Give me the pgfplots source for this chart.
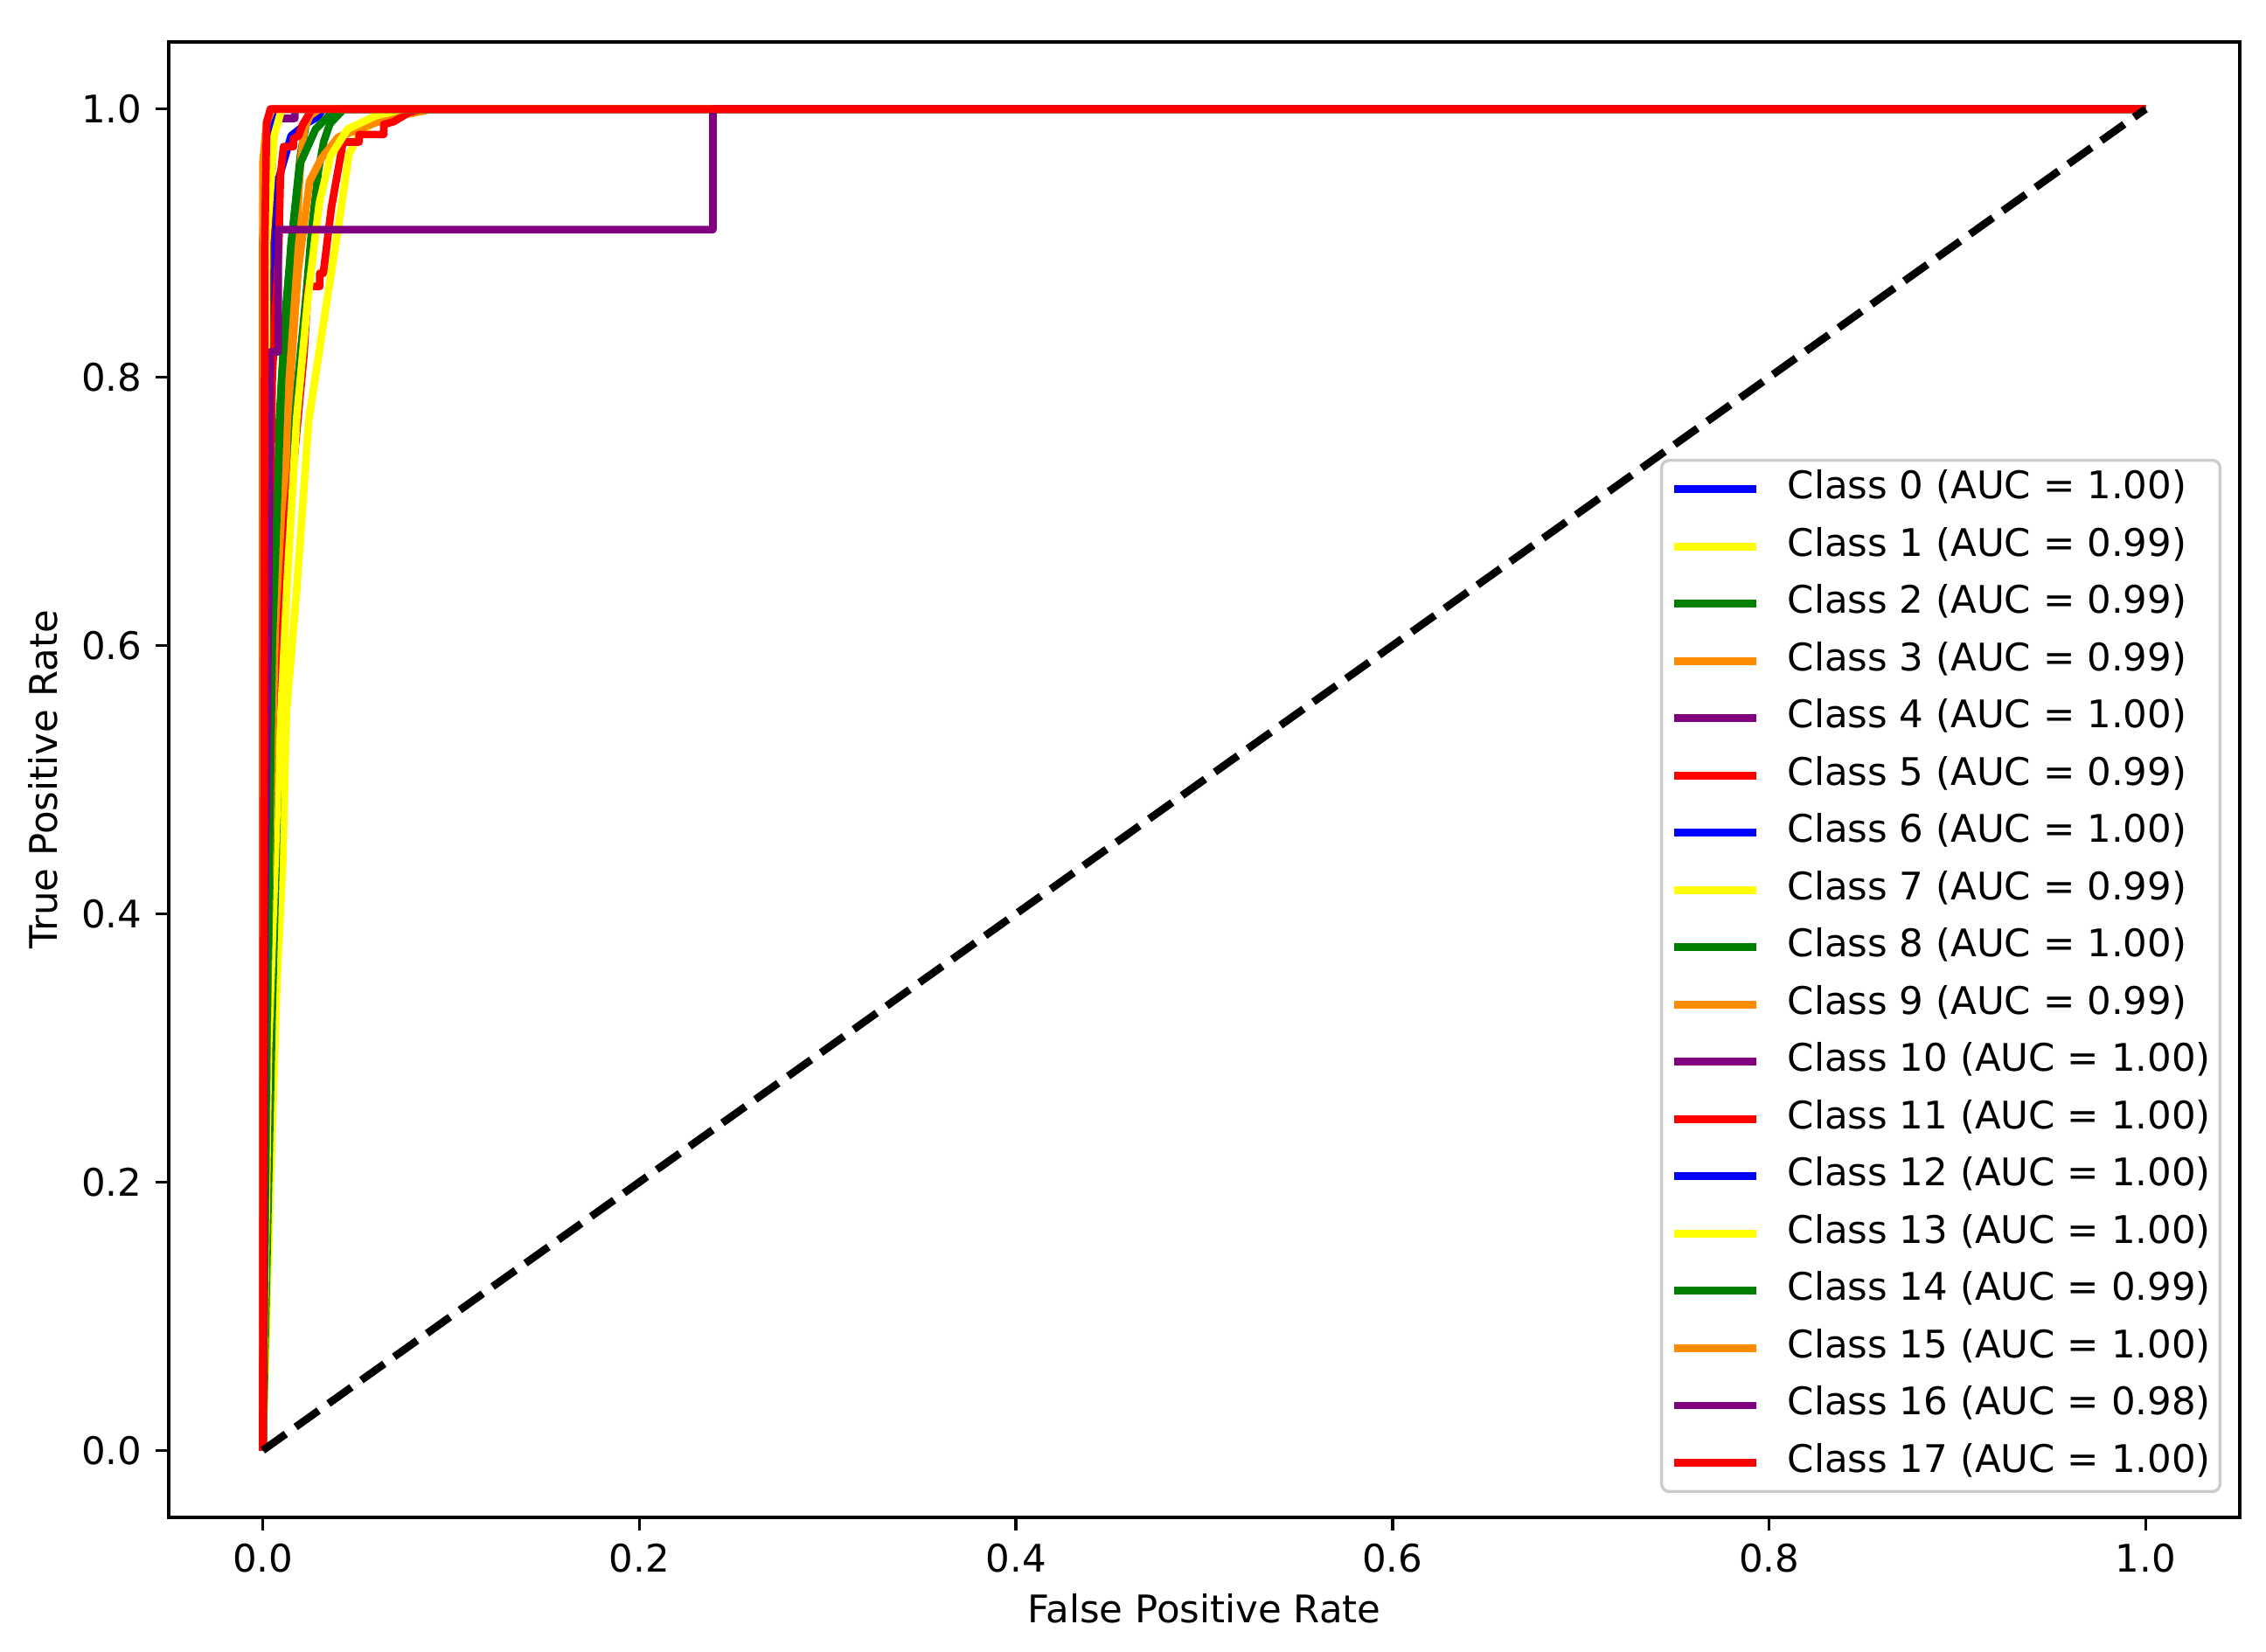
\documentclass[border=0pt]{standalone}
\usepackage{pgfplots}
\pgfplotsset{compat=1.18}
\usepackage{fontspec}
\setmainfont{DejaVu Sans}
\definecolor{cblue}{rgb}{0,0,1}
\definecolor{cyellow}{rgb}{1,1,0}
\definecolor{cgreen}{rgb}{0,0.502,0}
\definecolor{corange}{rgb}{1,0.549,0}
\definecolor{cpurple}{rgb}{0.502,0,0.502}
\definecolor{cred}{rgb}{1,0,0}
\newcommand{\legent}[1]{\addlegendentry{#1\hspace{2.2pt}}}
\begin{document}
\begin{tikzpicture}
\begin{axis}[
  at={(0,0)}, anchor=south west,
  scale only axis, width=544.6pt, height=388.05pt,
  xmin=-0.05, xmax=1.05, ymin=-0.05, ymax=1.05,
  xtick={0,0.2,0.4,0.6,0.8,1}, ytick={0,0.2,0.4,0.6,0.8,1},
  tick align=outside, major tick length=3.5pt,
  xtick pos=bottom, ytick pos=left,
  every tick/.style={black, line width=0.8pt},
  axis line style={line width=0.8pt},
  tick label style={font=\fontsize{10}{12}\selectfont},
  /pgf/number format/assume math mode=true,
  /pgf/number format/.cd, fixed, fixed zerofill, precision=1, /pgfplots/.cd,
  every axis x label/.style={at={(axis description cs:0.5,-0.0616)}, anchor=center, font=\fontsize{10}{12}\selectfont},
  every axis y label/.style={at={(axis description cs:-0.0606,0.5)}, anchor=center, rotate=90, font=\fontsize{10}{12}\selectfont},
  xlabel={False Positive Rate}, ylabel={True Positive Rate},
  no markers,
  every axis plot/.append style={line width=2pt, line join=round},
  legend cell align=left,
  legend image code/.code={\draw[#1] (0pt,0pt) -- (21.6pt,0pt);},
  legend style={at={(rel axis cs:1,0)}, anchor=south east, xshift=-4.8pt, yshift=6.4pt,
    draw=black!20, line width=0.8pt, rounded corners=2pt, fill=white, fill opacity=0.8, text opacity=1,
    font=\fontsize{10}{12}\selectfont, inner xsep=2.4pt, inner ysep=2.6pt,
    row sep=5.06pt, column sep=7.1pt,
    nodes={inner sep=0pt, text height=7.5pt, text depth=2.5pt}},
]
% Class 0
\addplot[cblue] coordinates {(0,0) (0.001,0.5) (0.003,0.8) (0.008,0.946) (0.015,0.98) (0.024,0.99) (0.029,0.994) (0.032,1) (1,1)};
\legent{Class 0 (AUC = 1.00)}
% Class 1
\addplot[cyellow] coordinates {(0,0) (0.004,0.2) (0.0075,0.35) (0.0106,0.44) (0.0125,0.55) (0.0177,0.637) (0.0244,0.768) (0.034,0.857) (0.040,0.911) (0.0457,0.966) (0.051,0.981) (0.060,0.992) (0.08,1) (1,1)};
\legent{Class 1 (AUC = 0.99)}
% Class 2
\addplot[cgreen] coordinates {(0,0) (0.003,0.2) (0.005,0.33) (0.007,0.44) (0.0086,0.55) (0.012,0.637) (0.0165,0.768) (0.0227,0.857) (0.026,0.911) (0.0296,0.955) (0.0324,0.976) (0.0356,0.989) (0.043,1) (1,1)};
\legent{Class 2 (AUC = 0.99)}
% Class 3
\addplot[corange] coordinates {(0,0) (0.002,0.3) (0.006,0.5) (0.010,0.637) (0.013,0.768) (0.0187,0.879) (0.0248,0.946) (0.031,0.963) (0.040,0.979) (0.0557,0.9875) (0.068,0.994) (0.08,0.997) (0.09,1) (1,1)};
\legent{Class 3 (AUC = 0.99)}
% Class 4
\addplot[cpurple] coordinates {(0,0) (0.001,0.6) (0.003,0.9) (0.0056,0.981) (0.0056,0.993) (0.017,0.993) (0.017,1) (1,1)};
\legent{Class 4 (AUC = 1.00)}
% Class 5
\addplot[cred] coordinates {(0,0) (0.003,0.3) (0.008,0.55) (0.014,0.7) (0.0218,0.8166) (0.0241,0.8677) (0.0302,0.8677) (0.0302,0.8775) (0.0321,0.8775) (0.0364,0.9265) (0.0426,0.9754) (0.0511,0.9754) (0.0511,0.981) (0.0642,0.981) (0.0642,0.9885) (0.0696,0.9906) (0.0773,0.9972) (0.0835,1) (1,1)};
\legent{Class 5 (AUC = 0.99)}
% Class 6
\addplot[cblue] coordinates {(0,0) (0,0.9) (0.002,0.98) (0.006,1) (1,1)};
\legent{Class 6 (AUC = 1.00)}
% Class 7
\addplot[cyellow] coordinates {(0,0) (0.003,0.3) (0.008,0.5) (0.013,0.65) (0.018,0.77) (0.024,0.86) (0.030,0.93) (0.036,0.965) (0.045,0.985) (0.06,0.995) (0.075,1) (1,1)};
\legent{Class 7 (AUC = 0.99)}
% Class 8
\addplot[cgreen] coordinates {(0,0) (0.002,0.3) (0.006,0.6) (0.0088,0.77) (0.0125,0.857) (0.0167,0.922) (0.020,0.966) (0.0227,0.987) (0.026,1) (1,1)};
\legent{Class 8 (AUC = 1.00)}
% Class 9
\addplot[corange] coordinates {(0,0) (0.003,0.4) (0.008,0.7) (0.0125,0.82) (0.0176,0.9) (0.02,0.96) (0.022,0.985) (0.025,0.995) (0.03,1) (1,1)};
\legent{Class 9 (AUC = 0.99)}
% Class 10
\addplot[cpurple] coordinates {(0,0) (0,0.9) (0.004,0.99) (0.01,1) (1,1)};
\legent{Class 10 (AUC = 1.00)}
% Class 11
\addplot[cred] coordinates {(0,0) (0.002,0.5) (0.005,0.8) (0.0085,0.9) (0.0093,0.95) (0.011,0.972) (0.0163,0.972) (0.0163,0.978) (0.019,0.98) (0.021,0.988) (0.024,0.995) (0.026,1) (1,1)};
\legent{Class 11 (AUC = 1.00)}
% Class 12
\addplot[cblue] coordinates {(0,0) (0.001,0.95) (0.004,0.99) (0.01,1) (1,1)};
\legent{Class 12 (AUC = 1.00)}
% Class 13
\addplot[cyellow] coordinates {(0,0) (0.002,0.9) (0.006,0.98) (0.01,1) (1,1)};
\legent{Class 13 (AUC = 1.00)}
% Class 14
\addplot[cgreen] coordinates {(0,0) (0.002,0.3) (0.005,0.6) (0.01,0.8) (0.015,0.9) (0.02,0.96) (0.028,0.985) (0.035,0.995) (0.04,1) (1,1)};
\legent{Class 14 (AUC = 0.99)}
% Class 15
\addplot[corange] coordinates {(0,0) (0,0.96) (0.002,0.99) (0.005,1) (1,1)};
\legent{Class 15 (AUC = 1.00)}
% Class 16
\addplot[cpurple] coordinates {(0,0) (0.001,0.4) (0.003,0.63) (0.004,0.819) (0.0082,0.819) (0.0082,0.91) (0.239,0.91) (0.239,1) (1,1)};
\legent{Class 16 (AUC = 0.98)}
% Class 17
\addplot[cred] coordinates {(0,0) (0.001,0.9) (0.002,0.99) (0.004,1) (1,1)};
\legent{Class 17 (AUC = 1.00)}
% diagonal
\addplot[black, dash pattern=on 7.4pt off 3.2pt, line cap=butt, forget plot] coordinates {(0,0) (1,1)};
\end{axis}
\pgfresetboundingbox
\path[use as bounding box] (-44.37pt,-35.4pt) rectangle (551.5pt,399.08pt);
\end{tikzpicture}
\end{document}
